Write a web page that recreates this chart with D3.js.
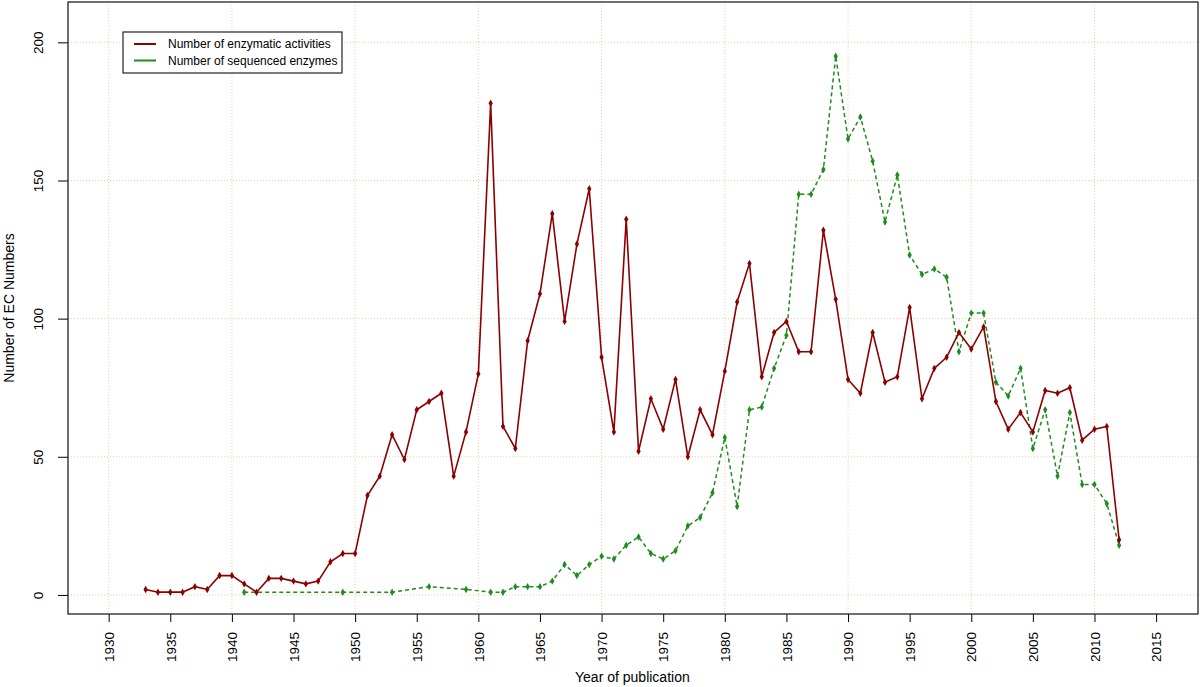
<!DOCTYPE html>
<html>
<head>
<meta charset="utf-8">
<script src="https://cdn.jsdelivr.net/npm/d3@7"></script>
<style>
  body { margin: 0; background: #fff; }
  text { font-family: "Liberation Sans", Arial, sans-serif; fill: #000; }
</style>
</head>
<body>
<script>
// Canvas size
var width = 1200;
var height = 687;

// Data
var activityYears = d3.range(1933, 2013);
var activityValues = [
  2, 1, 1, 1, 3, 2, 7, 7, 4, 1,          // 1933-1942
  6, 6, 5, 4, 5, 12, 15, 15, 36, 43,     // 1943-1952
  58, 49, 67, 70, 73, 43, 59, 80, 178, 61, // 1953-1962
  53, 92, 109, 138, 99, 127, 147, 86, 59, 136, // 1963-1972
  52, 71, 60, 78, 50, 67, 58, 81, 106, 120,    // 1973-1982
  79, 95, 99, 88, 88, 132, 107, 78, 73, 95,    // 1983-1992
  77, 79, 104, 71, 82, 86, 95, 89, 97, 70,     // 1993-2002
  60, 66, 59, 74, 73, 75, 56, 60, 61, 20       // 2003-2012
];

var sequencedYears = [1941, 1949, 1953, 1956, 1959].concat(d3.range(1961, 2013));
var sequencedValues = [
  1, 1, 1, 3, 2,                         // 1941-1959
  1, 1, 3, 3, 3, 5, 11, 7, 11, 14,       // 1961-1970
  13, 18, 21, 15, 13, 16, 25, 28, 37, 57, // 1971-1980
  32, 67, 68, 82, 94, 145, 145, 154, 195, 165, // 1981-1990
  173, 157, 135, 152, 123, 116, 118, 115, 88, 102, // 1991-2000
  102, 77, 72, 82, 53, 67, 43, 66, 40, 40,  // 2001-2010
  33, 18                                  // 2011-2012
];

var xTicks = d3.range(1930, 2016, 5);
var xGrid = d3.range(1930, 2016, 10);
var yTicks = [0, 50, 100, 150, 200];

var seriesNames = ["Number of enzymatic activities", "Number of sequenced enzymes"];
var seriesColors = ["#8b0000", "#1e8c1e"];

// Plot frame
var plotLeft = 68, plotRight = 1198, plotTop = 2, plotBottom = 614;

var svg = d3.select("body")
            .append("svg")
            .attr("width", width)
            .attr("height", height);

var x = d3.scaleLinear().domain([1926.7, 2018.4]).range([plotLeft, plotRight]);
var y = d3.scaleLinear().domain([-6.9, 214.6]).range([plotBottom, plotTop]);

// Grid lines (dotted, light orange)
svg.append("g")
   .selectAll("line")
   .data(xGrid)
   .enter()
   .append("line")
   .attr("x1", function(d) { return x(d); })
   .attr("x2", function(d) { return x(d); })
   .attr("y1", plotTop)
   .attr("y2", plotBottom)
   .attr("stroke", "#f2c9a2")
   .attr("stroke-dasharray", "1,2");

svg.append("g")
   .selectAll("line")
   .data(yTicks)
   .enter()
   .append("line")
   .attr("x1", plotLeft)
   .attr("x2", plotRight)
   .attr("y1", function(d) { return y(d); })
   .attr("y2", function(d) { return y(d); })
   .attr("stroke", "#f2c9a2")
   .attr("stroke-dasharray", "1,2");

// Axes
var xAxis = svg.append("g")
   .attr("transform", "translate(0," + plotBottom + ")")
   .call(d3.axisBottom(x).tickValues(xTicks).tickSize(8).tickFormat(d3.format("d")));
xAxis.select(".domain").remove();
xAxis.selectAll("text")
     .attr("transform", "rotate(-90)")
     .attr("x", -18)
     .attr("y", 0)
     .attr("dy", "0.35em")
     .attr("text-anchor", "end")
     .style("font-size", "13.5px");

var yAxis = svg.append("g")
   .attr("transform", "translate(" + plotLeft + ",0)")
   .call(d3.axisLeft(y).tickValues(yTicks).tickSize(10));
yAxis.select(".domain").remove();
yAxis.selectAll(".tick text")
     .attr("transform", "rotate(-90)")
     .attr("x", 0)
     .attr("y", -25)
     .attr("dy", 0)
     .attr("text-anchor", "middle")
     .style("font-size", "13.5px");
xAxis.selectAll("line").attr("stroke", "#000");
yAxis.selectAll("line").attr("stroke", "#000");

// Frame
svg.append("rect")
   .attr("x", plotLeft)
   .attr("y", plotTop)
   .attr("width", plotRight - plotLeft)
   .attr("height", plotBottom - plotTop)
   .attr("fill", "none")
   .attr("stroke", "#222")
   .attr("stroke-width", 1.3);

// Axis titles
svg.append("text")
   .attr("x", (x(1930) + x(2015)) / 2)
   .attr("y", 682)
   .attr("text-anchor", "middle")
   .style("font-size", "14px")
   .text("Year of publication");

svg.append("text")
   .attr("transform", "translate(14," + ((plotTop + plotBottom) / 2) + ") rotate(-90)")
   .attr("text-anchor", "middle")
   .style("font-size", "14px")
   .text("Number of EC Numbers");

// Series
var line = d3.line()
             .x(function(d) { return x(d[0]); })
             .y(function(d) { return y(d[1]); });

var activity = d3.zip(activityYears, activityValues);
var sequenced = d3.zip(sequencedYears, sequencedValues);

svg.append("path")
   .datum(sequenced)
   .attr("d", line)
   .attr("fill", "none")
   .attr("stroke", seriesColors[1])
   .attr("stroke-width", 1.5)
   .attr("stroke-dasharray", "4,3");

svg.append("path")
   .datum(activity)
   .attr("d", line)
   .attr("fill", "none")
   .attr("stroke", seriesColors[0])
   .attr("stroke-width", 1.6);

var marker = d3.symbol().type(d3.symbolDiamond).size(16);

svg.append("g")
   .selectAll("path")
   .data(sequenced)
   .enter()
   .append("path")
   .attr("transform", function(d) { return "translate(" + x(d[0]) + "," + y(d[1]) + ")"; })
   .attr("d", marker)
   .attr("fill", seriesColors[1]);

svg.append("g")
   .selectAll("path")
   .data(activity)
   .enter()
   .append("path")
   .attr("transform", function(d) { return "translate(" + x(d[0]) + "," + y(d[1]) + ")"; })
   .attr("d", marker)
   .attr("fill", seriesColors[0]);

// Legend
var legend = svg.append("g").attr("transform", "translate(123,32)");
legend.append("rect")
      .attr("width", 219)
      .attr("height", 41)
      .attr("fill", "#fff")
      .attr("stroke", "#222")
      .attr("stroke-width", 1.2);

var item = legend.selectAll(".item")
      .data(seriesNames)
      .enter()
      .append("g")
      .attr("class", "item")
      .attr("transform", function(d, i) { return "translate(0," + (12 + i * 16.5) + ")"; });

item.append("line")
    .attr("x1", 11)
    .attr("x2", 33)
    .attr("stroke", function(d, i) { return seriesColors[i]; })
    .attr("stroke-width", 2);

item.append("text")
    .attr("x", 45)
    .attr("dy", "0.35em")
    .style("font-size", "12px")
    .text(function(d) { return d; });
</script>
</body>
</html>
